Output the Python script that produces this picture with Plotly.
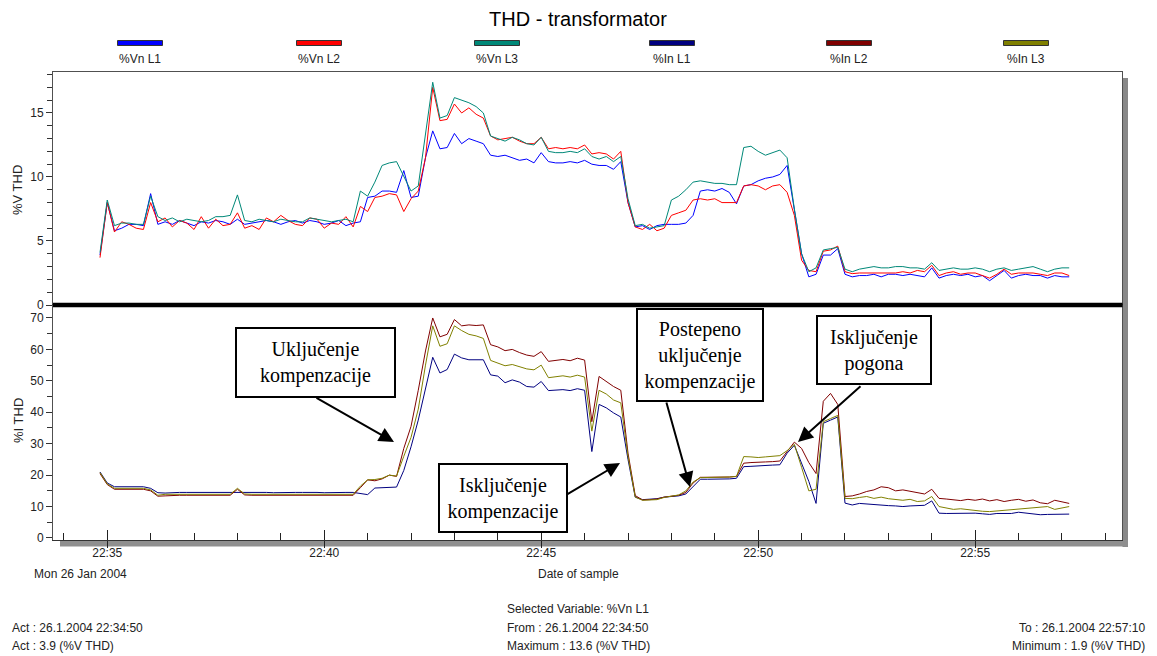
import pandas as pd
import plotly.graph_objects as go

W, H = 1157, 656

# ---- data: THD samples every 10 s, 26 Jan 2004 22:34:50 .. 22:57:10 ----
sample_times = pd.date_range("2004-01-26 22:34:50", "2004-01-26 22:57:10", freq="10s")

vn_l1 = [3.9, 8.0, 5.8, 6.0, 6.3, 6.3, 6.2, 8.7, 6.3, 6.5,
         6.3, 6.6, 6.4, 6.2, 6.5, 6.4, 6.6, 6.5, 6.3, 6.7,
         6.3, 6.4, 6.5, 6.6, 6.5, 6.3, 6.5, 6.6, 6.4, 6.6,
         6.5, 6.3, 6.4, 6.6, 6.2, 6.4, 6.5, 8.4, 8.5, 8.9,
         8.9, 8.8, 10.5, 8.4, 8.5, 11.5, 13.6, 12.2, 12.3, 13.4,
         12.6, 13.0, 12.8, 12.6, 11.7, 11.6, 11.7, 11.5, 11.3, 11.4,
         11.1, 11.9, 11.2, 11.1, 11.1, 11.2, 11.1, 11.3, 11.0, 10.9,
         10.9, 10.6, 11.2, 8.0, 6.1, 6.2, 5.9, 6.2, 6.3, 6.3,
         6.3, 6.4, 7.0, 8.9, 9.0, 8.9, 9.1, 8.8, 7.9, 9.3,
         9.4, 9.7, 9.9, 10.0, 10.2, 10.9, 7.5, 4.0, 2.2, 2.4,
         3.9, 3.9, 4.4, 2.4, 2.2, 2.3, 2.3, 2.4, 2.2, 2.4,
         2.4, 2.3, 2.4, 2.3, 2.2, 2.9, 2.1, 2.3, 2.4, 2.3,
         2.4, 2.2, 2.3, 1.9, 2.3, 2.7, 2.1, 2.3, 2.4, 2.3,
         2.3, 2.1, 2.3, 2.2, 2.2]

vn_l2 = [3.7, 8.0, 5.7, 6.5, 6.3, 6.0, 5.9, 8.0, 6.5, 6.8,
         6.1, 6.6, 6.4, 5.9, 6.9, 6.0, 6.7, 6.2, 6.3, 7.2,
         6.0, 6.2, 5.9, 6.8, 6.5, 7.0, 6.6, 6.3, 6.2, 6.8,
         6.7, 6.0, 6.4, 6.3, 6.9, 6.1, 7.7, 7.3, 8.4, 8.5,
         8.7, 8.6, 7.3, 8.3, 8.9, 11.5, 17.0, 14.4, 14.5, 15.7,
         15.0, 15.4, 14.9, 14.6, 13.2, 12.9, 13.0, 13.1, 12.8, 12.6,
         12.6, 13.1, 12.2, 12.3, 12.2, 12.3, 12.2, 12.5, 11.8, 11.9,
         11.8, 11.4, 12.0, 8.0, 6.1, 5.9, 6.3, 5.8, 6.0, 7.0,
         7.2, 7.4, 8.2, 8.3, 8.2, 8.3, 8.0, 8.0, 8.0, 9.3,
         9.4, 9.3, 9.0, 9.3, 9.4, 8.8, 7.0, 3.5, 2.7, 2.6,
         4.2, 4.3, 4.6, 2.6, 2.45, 2.5, 2.5, 2.5, 2.5, 2.5,
         2.5, 2.6, 2.5, 2.7, 2.6, 3.1, 2.3, 2.5, 2.6, 2.4,
         2.5, 2.5, 2.3, 2.1, 2.4, 2.8, 2.4, 2.5, 2.5, 2.5,
         2.4, 2.3, 2.5, 2.5, 2.3]

vn_l3 = [4.1, 8.2, 6.2, 6.4, 6.4, 6.3, 6.3, 8.5, 6.9, 6.6,
         6.8, 6.5, 6.7, 6.6, 6.5, 6.6, 6.9, 6.9, 7.0, 8.6,
         6.6, 6.5, 6.7, 6.6, 6.5, 6.7, 6.6, 6.5, 6.5, 6.8,
         6.7, 6.6, 6.5, 6.6, 6.7, 6.5, 8.9, 8.5, 9.6, 10.9,
         11.1, 11.2, 10.0, 8.9, 9.3, 13.5, 17.4, 14.6, 14.8, 16.2,
         16.0, 15.8, 15.5, 15.0, 13.2, 13.0, 12.8, 13.1, 12.9, 12.6,
         12.5, 13.1, 12.0, 11.9, 11.9, 12.0, 11.9, 12.2, 11.6, 11.4,
         11.6, 11.2, 11.6, 8.3, 6.2, 6.3, 6.0, 6.1, 6.2, 8.2,
         8.5, 9.0, 9.6, 9.7, 9.6, 9.5, 9.5, 9.4, 9.4, 12.3,
         12.4, 12.0, 11.7, 11.9, 12.1, 11.5, 7.5, 4.0, 2.6, 2.9,
         4.3, 4.4, 4.5, 2.8, 2.6, 2.8, 2.9, 3.0, 2.9, 2.9,
         3.0, 3.0, 2.9, 2.9, 2.8, 3.3, 2.7, 2.8, 2.9, 2.8,
         2.8, 2.9, 2.8, 2.6, 2.8, 2.9, 2.7, 2.8, 2.9, 3.0,
         2.8, 2.6, 2.8, 2.9, 2.9]

in_l1 = [21.0, 17.5, 16.3, 16.3, 16.3, 16.3, 16.3, 15.8, 14.4, 14.3,
         14.5, 14.5, 14.5, 14.5, 14.6, 14.5, 14.5, 14.5, 14.6, 14.7,
         14.5, 14.5, 14.6, 14.5, 14.4, 14.5, 14.6, 14.5, 14.5, 14.6,
         14.5, 14.4, 14.5, 14.6, 14.5, 14.5, 14.2, 13.8, 15.9, 16.0,
         16.1, 16.2, 21.5, 29.0, 37.5, 48.0, 57.5, 52.5, 53.6, 58.5,
         57.3, 56.7, 56.6, 56.7, 51.9, 51.5, 49.4, 50.3, 49.6, 48.2,
         48.0, 49.8, 46.9, 47.1, 47.2, 46.9, 47.5, 47.0, 27.5, 42.5,
         41.4, 39.8, 38.5, 25.0, 13.0, 12.2, 12.3, 12.5, 13.0, 13.2,
         13.4, 14.0, 16.5, 18.7, 18.7, 18.7, 18.8, 18.8, 19.0, 22.7,
         22.8, 23.0, 23.1, 23.2, 23.3, 27.0, 29.5, 24.0, 18.0, 11.0,
         36.5, 37.5, 38.5, 11.1, 10.5, 11.0, 10.8, 10.5, 10.4, 10.3,
         10.2, 10.0, 10.2, 10.2, 10.4, 11.8, 7.9, 7.8, 7.8, 7.9,
         8.0, 7.9, 7.7, 7.5, 7.8, 7.7, 7.8, 8.2, 7.9, 7.6,
         7.4, 7.5, 7.6, 7.5, 7.6]

in_l2 = [20.5, 17.0, 15.5, 15.5, 15.5, 15.5, 15.5, 15.0, 13.3, 13.4,
         13.6, 13.6, 13.6, 13.6, 13.6, 13.6, 13.6, 13.6, 13.6, 15.5,
         13.7, 13.6, 13.6, 13.6, 13.6, 13.6, 13.6, 13.6, 13.6, 13.6,
         13.6, 13.6, 13.6, 13.6, 13.6, 13.6, 16.0, 18.5, 18.2, 18.8,
         20.0, 19.6, 28.5, 35.5, 47.0, 59.5, 70.0, 64.0, 64.8, 69.5,
         67.5, 67.8, 67.6, 67.8, 61.5, 60.8, 59.6, 60.0, 59.0, 58.2,
         57.8, 59.3, 56.2, 56.5, 56.8, 56.4, 57.2, 56.6, 37.0, 51.4,
         49.8, 48.2, 47.0, 27.0, 13.5, 12.1, 12.2, 12.4, 13.0, 13.2,
         13.6, 14.5, 17.5, 19.3, 19.3, 19.2, 19.3, 19.4, 19.6, 23.8,
         24.0, 24.0, 24.2, 24.3, 24.5, 27.5, 30.5, 28.5, 24.0, 20.5,
         43.5, 46.0, 42.5, 13.2, 13.4, 14.0, 14.8, 15.3, 16.3, 16.0,
         15.0, 15.3, 14.8, 14.5, 14.0, 15.5, 12.6, 12.4, 12.2, 11.9,
         12.3, 12.0, 12.4, 11.8, 12.2, 11.6, 12.0, 12.3, 11.7, 12.1,
         11.2, 10.9, 12.0, 11.4, 11.0]

in_l3 = [20.8, 17.2, 15.8, 15.8, 15.8, 15.8, 15.8, 15.3, 13.6, 13.9,
         13.9, 13.9, 13.9, 13.9, 13.9, 13.9, 13.9, 13.9, 13.9, 15.8,
         14.0, 13.9, 13.9, 13.9, 13.9, 13.9, 13.9, 13.9, 13.9, 13.9,
         13.9, 13.9, 13.9, 13.9, 13.9, 13.9, 16.5, 18.5, 18.6, 19.0,
         20.0, 19.7, 26.0, 32.0, 41.0, 55.0, 67.5, 61.0, 61.8, 67.5,
         66.0, 64.8, 64.3, 63.5, 56.5, 55.6, 54.8, 55.2, 54.4, 53.8,
         53.5, 55.0, 51.0, 51.3, 51.6, 51.2, 51.8, 51.2, 34.0, 47.0,
         45.8, 43.9, 43.0, 26.0, 13.0, 12.0, 12.0, 12.2, 12.9, 13.2,
         13.7, 15.0, 17.8, 19.2, 19.2, 19.3, 19.4, 19.4, 19.6, 25.9,
         25.8, 25.6, 25.8, 26.0, 26.2, 27.8, 29.8, 22.5, 15.0, 15.5,
         37.0, 38.0, 39.0, 12.6, 12.5, 12.9, 13.2, 12.6, 13.0, 12.5,
         12.2, 12.0, 12.3, 11.6, 11.8, 13.2, 10.0, 9.6, 9.1, 9.3,
         9.0, 8.6, 8.5, 8.4, 8.6, 8.7, 8.9, 9.2, 9.4, 9.6,
         9.9, 10.0, 9.1, 9.6, 10.0]

voltage_series = [("%Vn L1", vn_l1, "#0000ff"),
                  ("%Vn L2", vn_l2, "#ff0000"),
                  ("%Vn L3", vn_l3, "#008878")]
current_series = [("%In L1", in_l1, "#000080"),
                  ("%In L2", in_l2, "#800000"),
                  ("%In L3", in_l3, "#808000")]

legend_centers = [140, 319, 497, 672, 849, 1026]

# ---- helpers: pixel -> paper ----
def px(x):
    return x / W


def py(y):
    return 1 - y / H


FONT = "Arial, Liberation Sans, sans-serif"
SERIF = "Times New Roman, Liberation Serif, serif"
FRAME = "#505050"
TXT = "#222222"

fig = go.Figure()

for name, vals, color in voltage_series:
    fig.add_trace(go.Scatter(x=sample_times, y=vals, xaxis="x", yaxis="y",
                             mode="lines", line=dict(color=color, width=1),
                             name=name, showlegend=False))
for name, vals, color in current_series:
    fig.add_trace(go.Scatter(x=sample_times, y=vals, xaxis="x2", yaxis="y2",
                             mode="lines", line=dict(color=color, width=1),
                             name=name, showlegend=False))
# carriers for the extra tick-only axes
for ax_id in ["x3", "x4", "x5"]:
    fig.add_trace(go.Scatter(x=[sample_times[0]], y=[None], xaxis=ax_id, yaxis="y2",
                             mode="lines", showlegend=False, hoverinfo="skip"))

x_range = ["2004-01-26 22:33:45", "2004-01-26 22:58:23"]
x_dom = [px(53), px(1122)]
tickfont = dict(family=FONT, size=12, color=TXT)


def tick_axis(dtick, ticks, ticklen):
    return dict(domain=x_dom, range=x_range, type="date", anchor="y2", overlaying="x2",
                tick0="2004-01-26 22:35:00", dtick=dtick, ticks=ticks, ticklen=ticklen,
                tickcolor="#222", showticklabels=False, showgrid=False,
                zeroline=False, showline=False, automargin=False)


fig.update_layout(
    width=W, height=H,
    margin=dict(l=0, r=0, t=0, b=0, pad=0),
    paper_bgcolor="white", plot_bgcolor="white",
    showlegend=False,
    xaxis=dict(domain=x_dom, range=x_range, type="date", anchor="y",
               showticklabels=False, ticks="", showgrid=False, zeroline=False,
               showline=True, mirror=True, linecolor=FRAME, linewidth=1,
               automargin=False),
    yaxis=dict(domain=[py(305), py(72)], range=[0, 18.2], anchor="x",
               tick0=0, dtick=5, ticks="outside", ticklen=6, tickcolor="#333",
               minor=dict(dtick=1, ticks="outside", ticklen=5, tickcolor="#333"),
               showgrid=False, zeroline=False, showline=True, mirror=True,
               linecolor=FRAME, linewidth=1, tickfont=tickfont, automargin=False),
    xaxis2=dict(domain=x_dom, range=x_range, type="date", anchor="y2",
                tick0="2004-01-26 22:35:00", dtick=300000, tickformat="%H:%M",
                ticks="", ticklabelstandoff=2,
                showgrid=False, zeroline=False, showline=True, mirror=True,
                linecolor="#333", linewidth=1, tickfont=tickfont, automargin=False),
    xaxis3=tick_axis(60000, "inside", 7),
    xaxis4=tick_axis(300000, "inside", 10),
    xaxis5=tick_axis(300000, "outside", 7),
    yaxis2=dict(domain=[py(539.5), py(305)], range=[-0.48, 74.13], anchor="x2",
                tick0=0, dtick=10, ticks="outside", ticklen=6, tickcolor="#333",
                minor=dict(dtick=5, ticks="outside", ticklen=5, tickcolor="#333"),
                showgrid=False, zeroline=False, showline=True, mirror=True,
                linecolor=FRAME, linewidth=1, tickfont=tickfont, automargin=False),
)

shapes = []
# drop shadow along the right and bottom edge of the plot frame
shapes.append(dict(type="rect", xref="paper", yref="paper", layer="below",
                   x0=px(1122.5), x1=px(1128), y0=py(547), y1=py(78),
                   fillcolor="#888888", line=dict(width=0)))
shapes.append(dict(type="rect", xref="paper", yref="paper", layer="below",
                   x0=px(60), x1=px(1128), y0=py(546.5), y1=py(540),
                   fillcolor="#8f8f8f", line=dict(width=0)))
# heavy divider between voltage and current panels
shapes.append(dict(type="rect", xref="paper", yref="paper", layer="above",
                   x0=px(53), x1=px(1122.5), y0=py(307.3), y1=py(302.7),
                   fillcolor="black", line=dict(width=0)))
# legend swatches
for (name, vals, color), cx in zip(voltage_series + current_series, legend_centers):
    shapes.append(dict(type="rect", xref="paper", yref="paper",
                       x0=px(cx - 22.5), x1=px(cx + 22.5), y0=py(45.5), y1=py(40.5),
                       fillcolor=color, line=dict(color="#333333", width=1)))
fig.update_layout(shapes=shapes)

annotations = []


def text_at(x, y, text, size=12, xanchor="center", family=FONT, color=TXT):
    annotations.append(dict(xref="paper", yref="paper", x=px(x), y=py(y),
                            text=text, showarrow=False, xanchor=xanchor,
                            yanchor="middle", font=dict(family=family, size=size, color=color)))


text_at(578, 19, "THD - transformator", size=20, color="black")
for (name, vals, color), cx in zip(voltage_series + current_series, legend_centers):
    text_at(cx, 59, name)

# axis titles
for label, yc in [("%V THD", 190), ("%I THD", 421)]:
    annotations.append(dict(xref="paper", yref="paper", x=px(18), y=py(yc),
                            text=label, textangle=-90, showarrow=False,
                            xanchor="center", yanchor="middle",
                            font=dict(family=FONT, size=13, color=TXT)))

text_at(80, 574, "Mon 26 Jan 2004")
text_at(578, 574, "Date of sample")

# status footer
text_at(578, 609, "Selected Variable: %Vn L1")
text_at(10, 628, "Act : 26.1.2004 22:34:50", xanchor="left")
text_at(10, 646, "Act : 3.9 (%V THD)", xanchor="left")
text_at(578, 628, "From : 26.1.2004 22:34:50")
text_at(578, 646, "Maximum : 13.6 (%V THD)")
text_at(1147, 628, "To : 26.1.2004 22:57:10", xanchor="right")
text_at(1147, 646, "Minimum : 1.9 (%V THD)", xanchor="right")

# callout boxes: (left, top, right, bottom) in pixels, text
callouts = [
    ((236, 328, 395, 397), "Uključenje<br>kompenzacije"),
    ((439, 464, 567, 532), "Isključenje<br>kompenzacije"),
    ((637, 309, 763, 401), "Postepeno<br>uključenje<br>kompenzacije"),
    ((817, 316, 931, 384), "Isključenje<br>pogona"),
]
for (l, t, r, b), txt in callouts:
    annotations.append(dict(xref="paper", yref="paper", x=px((l + r) / 2), y=py((t + b) / 2),
                            xanchor="center", yanchor="middle", text=txt, showarrow=False,
                            align="center", width=r - l - 2, height=b - t - 2,
                            bgcolor="white", bordercolor="black", borderwidth=2, borderpad=0,
                            font=dict(family=SERIF, size=20, color="black")))

# arrows: (tail x, tail y, tip x, tip y) in pixels
arrows = [
    (315, 397, 394, 442),
    (566, 495, 620, 463),
    (666, 401, 690, 487),
    (862, 385, 798, 442),
]
for tx, ty, hx, hy in arrows:
    annotations.append(dict(xref="paper", yref="paper", x=px(hx), y=py(hy),
                            axref="pixel", ayref="pixel", ax=tx - hx, ay=ty - hy,
                            text="", showarrow=True, arrowhead=2, arrowsize=1.5,
                            arrowwidth=2, arrowcolor="black", standoff=0))

fig.update_layout(annotations=annotations)

fig.write_html("out.html")
